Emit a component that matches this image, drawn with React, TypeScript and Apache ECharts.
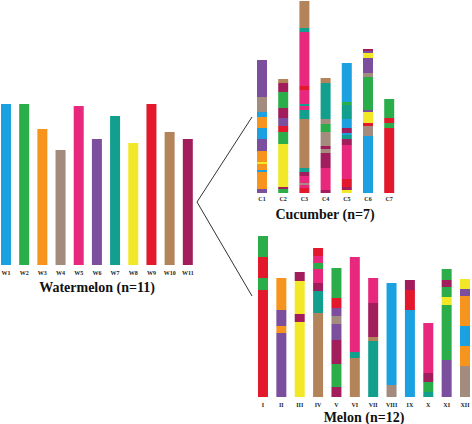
import React, { useEffect, useRef } from "react";
import * as echarts from "echarts";

const COLORS: Record<string, string> = {
  blue: "#1ba1e2",
  green: "#2bae4a",
  orange: "#f7941d",
  taupe: "#a38b7d",
  pink: "#e8287c",
  purple: "#7b4f9d",
  teal: "#139f8d",
  yellow: "#f3e827",
  red: "#e3182d",
  brown: "#b3845a",
  maroon: "#a11d5c",
};

// Watermelon
const watermelonNames = ["W1", "W2", "W3", "W4", "W5", "W6", "W7", "W8", "W9", "W10", "W11"];
const watermelonLengths = [161, 161, 136, 115, 159, 126, 149, 122, 161, 133, 126];
const watermelonColors = ["blue", "green", "orange", "taupe", "pink", "purple", "teal", "yellow", "red", "brown", "maroon"];

// Cucumber: segments listed from top to bottom as [length, colour]
const cucumberNames = ["C1", "C2", "C3", "C4", "C5", "C6", "C7"];
const C1 = [[37, "purple"], [15, "taupe"], [5, "blue"], [11, "orange"], [11, "blue"], [12, "purple"], [11, "orange"], [2, "yellow"], [6, "orange"], [2, "blue"], [17, "orange"], [4, "purple"]];
const C2 = [[4, "brown"], [9, "maroon"], [16, "green"], [10, "maroon"], [8, "purple"], [6, "red"], [12, "green"], [43, "yellow"], [2, "maroon"], [4, "green"]];
const C3 = [[27, "brown"], [4, "teal"], [54, "pink"], [4, "red"], [14, "pink"], [2, "teal"], [4, "pink"], [9, "teal"], [49, "brown"], [4, "teal"], [4, "maroon"], [7, "pink"], [2, "taupe"], [3, "pink"], [5, "red"]];
const C4 = [[5, "brown"], [36, "teal"], [5, "taupe"], [8, "green"], [14, "taupe"], [3, "maroon"], [4, "taupe"], [15, "maroon"], [22, "pink"], [3, "maroon"]];
const C5 = [[39, "blue"], [3, "green"], [14, "teal"], [9, "blue"], [5, "maroon"], [2, "blue"], [4, "teal"], [6, "maroon"], [34, "pink"], [8, "red"], [3, "maroon"], [3, "yellow"]];
const C6 = [[2, "maroon"], [2, "purple"], [5, "yellow"], [15, "purple"], [4, "taupe"], [33, "green"], [2, "purple"], [11, "yellow"], [3, "red"], [10, "taupe"], [57, "blue"]];
const C7 = [[19, "green"], [5, "red"], [5, "green"], [65, "red"]];
const cucumberSegments = [C1, C2, C3, C4, C5, C6, C7];

// Melon
const melonNames = ["I", "II", "III", "IV", "V", "VI", "VII", "VIII", "IX", "X", "XI", "XII"];
const M1 = [[21, "green"], [21, "red"], [12, "green"], [107, "red"]];
const M2 = [[32, "orange"], [16, "purple"], [7, "orange"], [64, "purple"]];
const M3 = [[9, "maroon"], [33, "yellow"], [8, "maroon"], [75, "yellow"]];
const M4 = [[8, "red"], [7, "pink"], [6, "green"], [14, "pink"], [8, "maroon"], [22, "teal"], [84, "brown"]];
const M5 = [[30, "green"], [10, "red"], [8, "purple"], [8, "taupe"], [16, "purple"], [24, "maroon"], [23, "green"], [10, "maroon"]];
const M6 = [[95, "pink"], [6, "teal"], [39, "brown"]];
const M7 = [[25, "pink"], [34, "maroon"], [4, "brown"], [56, "teal"]];
const M8 = [[102, "blue"], [12, "taupe"]];
const M9 = [[10, "maroon"], [20, "red"], [87, "blue"]];
const M10 = [[50, "pink"], [9, "maroon"], [10, "green"], [5, "teal"]];
const M11 = [[11, "green"], [7, "maroon"], [10, "green"], [8, "yellow"], [55, "green"], [37, "purple"]];
const M12 = [[10, "yellow"], [7, "purple"], [30, "orange"], [20, "blue"], [20, "orange"], [31, "taupe"]];
const melonSegments = [M1, M2, M3, M4, M5, M6, M7, M8, M9, M10, M11, M12];

const BAR_W = 10;

function segData(chroms: any[][]) {
  const out: any[] = [];
  chroms.forEach((segs, i) => {
    let top = segs.reduce((s: number, g: any) => s + g[0], 0);
    segs.forEach((g: any) => {
      out.push({ value: [i, top - g[0], top], itemStyle: { color: COLORS[g[1]] } });
      top -= g[0];
    });
  });
  return out;
}

const renderItem = (params: any, api: any) => {
  const x = api.value(0);
  const p0 = api.coord([x, api.value(1)]);
  const p1 = api.coord([x, api.value(2)]);
  return {
    type: "rect",
    shape: { x: p0[0] - BAR_W / 2, y: p1[1], width: BAR_W, height: p0[1] - p1[1] },
    style: { fill: api.visual("color") },
  };
};

const labelStyle = (margin: number) => ({
  fontSize: 6,
  fontWeight: "bold",
  fontFamily: "Liberation Serif",
  color: "#222",
  margin,
  interval: 0,
});

export default function App() {
  const ref = useRef<HTMLDivElement>(null);
  useEffect(() => {
    const chart = echarts.init(ref.current!, undefined, { renderer: "svg" });
    const wData = watermelonLengths.map((len, i) => ({
      value: [i, 0, len],
      itemStyle: { color: COLORS[watermelonColors[i]] },
    }));
    chart.setOption({
      animation: false,
      grid: [
        { left: -3.1, top: 104, width: 200, height: 161, outerBoundsMode: "none" },
        { left: 251.4, top: 1, width: 148.4, height: 192, outerBoundsMode: "none" },
        { left: 253.8, top: 236, width: 220.4, height: 161, outerBoundsMode: "none" },
      ],
      xAxis: [
        { type: "category", gridIndex: 0, data: watermelonNames, axisLine: { show: false }, axisTick: { show: false }, axisLabel: labelStyle(5) },
        { type: "category", gridIndex: 1, data: cucumberNames, axisLine: { show: false }, axisTick: { show: false }, axisLabel: labelStyle(3) },
        { type: "category", gridIndex: 2, data: melonNames, axisLine: { show: false }, axisTick: { show: false }, axisLabel: labelStyle(5) },
      ],
      yAxis: [
        { type: "value", gridIndex: 0, min: 0, max: 161, show: false },
        { type: "value", gridIndex: 1, min: 0, max: 192, show: false },
        { type: "value", gridIndex: 2, min: 0, max: 161, show: false },
      ],
      series: [
        { type: "custom", xAxisIndex: 0, yAxisIndex: 0, renderItem, data: wData, clip: false },
        { type: "custom", xAxisIndex: 1, yAxisIndex: 1, renderItem, data: segData(cucumberSegments), clip: false },
        { type: "custom", xAxisIndex: 2, yAxisIndex: 2, renderItem, data: segData(melonSegments), clip: false },
      ],
      graphic: [
        {
          type: "polyline",
          shape: { points: [[252, 117], [197, 202], [252, 296]] },
          style: { stroke: "#333", lineWidth: 1, fill: null },
        },
        {
          type: "text",
          x: 97,
          y: 287,
          style: { text: "Watermelon (n=11)", font: "bold 14px 'Liberation Serif'", fill: "#111", textAlign: "center", textVerticalAlign: "middle" },
        },
        {
          type: "text",
          x: 325,
          y: 214,
          style: { text: "Cucumber (n=7)", font: "bold 14px 'Liberation Serif'", fill: "#111", textAlign: "center", textVerticalAlign: "middle" },
        },
        {
          type: "text",
          x: 364,
          y: 417,
          style: { text: "Melon (n=12)", font: "bold 14px 'Liberation Serif'", fill: "#111", textAlign: "center", textVerticalAlign: "middle" },
        },
      ],
    });
    return () => chart.dispose();
  }, []);
  return (
    <div
      ref={ref}
      style={{ position: "fixed", left: 0, top: 0, width: 472, height: 424, background: "#fff" }}
    />
  );
}
